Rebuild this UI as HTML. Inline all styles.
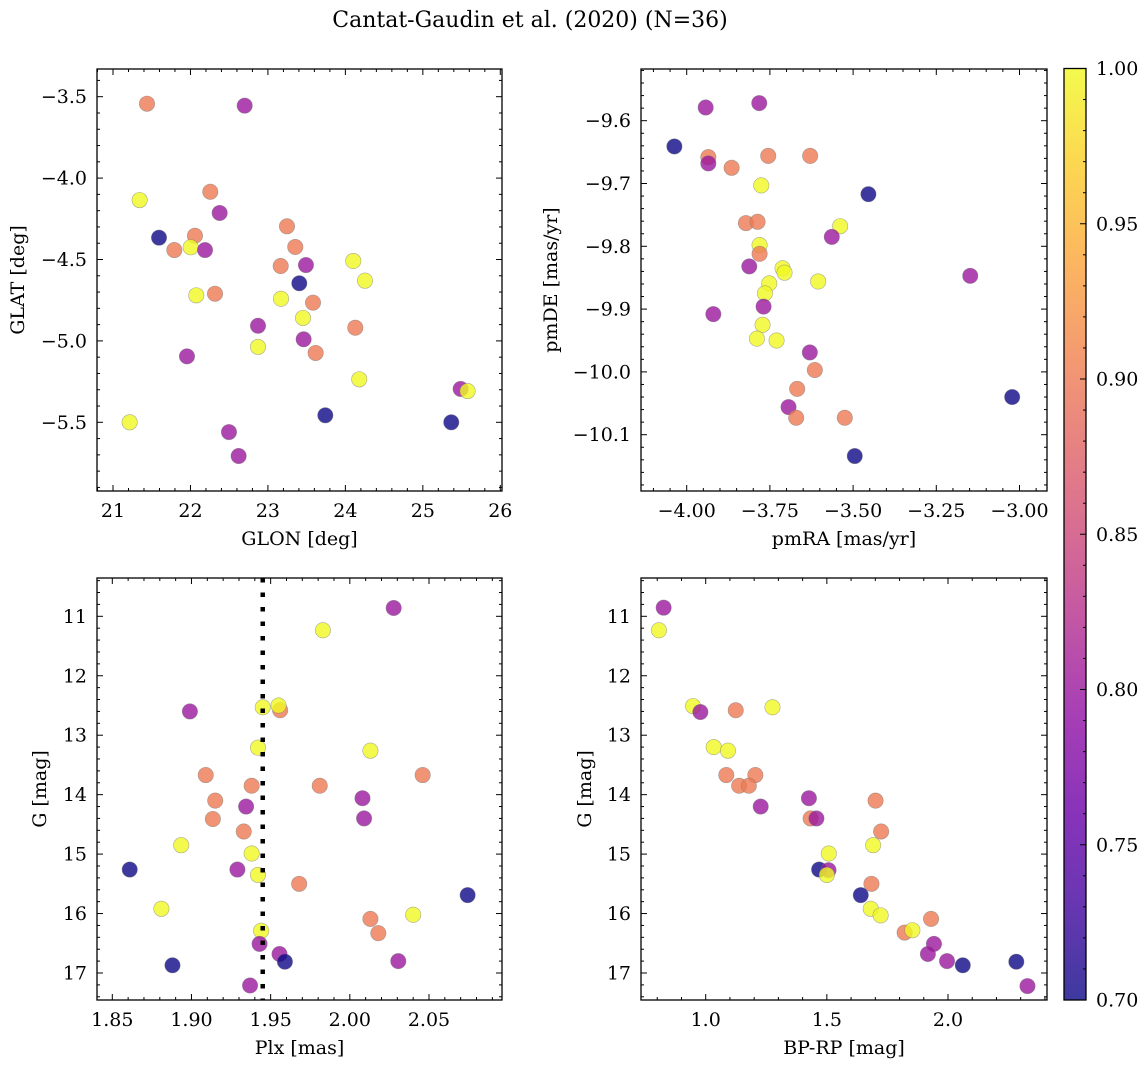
<!DOCTYPE html>
<html><head><meta charset="utf-8">
<style>
html,body{margin:0;padding:0;background:#fff;}
svg{display:block;font-family:"DejaVu Serif","Liberation Serif",serif;}
</style></head>
<body>
<svg id="fig" width="1148" height="1068" viewBox="0 0 1148 1068" xmlns="http://www.w3.org/2000/svg">
<text x="530" y="27" font-size="22" text-anchor="middle">Cantat-Gaudin et al. (2020) (N=36)</text>
</svg>
<script>
// ---- data ----
// panel 1: GLON vs GLAT
const glonX=[21.439,22.70,21.344,22.256,22.377,23.246,21.594,22.058,21.792,22.003,22.188,23.353,23.165,23.491,24.102,24.253,23.405,22.075,22.317,23.169,23.582,23.453,22.872,24.128,23.461,22.872,23.616,21.955,24.179,25.488,25.578,23.741,25.367,21.215,22.497,22.622];
const glatY=[-3.543,-3.555,-4.135,-4.084,-4.214,-4.296,-4.366,-4.354,-4.442,-4.425,-4.442,-4.423,-4.540,-4.534,-4.509,-4.630,-4.646,-4.720,-4.710,-4.741,-4.765,-4.859,-4.907,-4.919,-4.990,-5.037,-5.074,-5.095,-5.236,-5.295,-5.308,-5.457,-5.500,-5.500,-5.560,-5.707];
const glonP=[0.9,0.8,1.0,0.9,0.8,0.9,0.7,0.9,0.9,1.0,0.8,0.9,0.9,0.8,1.0,1.0,0.7,1.0,0.9,1.0,0.9,1.0,0.8,0.9,0.8,1.0,0.9,0.8,1.0,0.8,1.0,0.7,0.7,1.0,0.8,0.8];
// panel 2: pmRA vs pmDE
const pmraX=[-3.943,-3.782,-4.037,-3.935,-3.935,-3.865,-3.755,-3.629,-3.776,-3.454,-3.822,-3.787,-3.539,-3.564,-3.781,-3.781,-3.812,-3.712,-3.706,-3.148,-3.752,-3.605,-3.765,-3.769,-3.920,-3.772,-3.789,-3.730,-3.630,-3.615,-3.022,-3.668,-3.694,-3.671,-3.525,-3.495];
const pmdeY=[-9.579,-9.572,-9.641,-9.658,-9.668,-9.675,-9.656,-9.656,-9.703,-9.717,-9.763,-9.761,-9.768,-9.785,-9.798,-9.812,-9.832,-9.835,-9.842,-9.847,-9.859,-9.856,-9.875,-9.896,-9.908,-9.925,-9.947,-9.950,-9.969,-9.997,-10.040,-10.027,-10.056,-10.073,-10.073,-10.134];
const pmP=[0.8,0.8,0.7,0.9,0.8,0.9,0.9,0.9,1.0,0.7,0.9,0.9,1.0,0.8,1.0,0.9,0.8,1.0,1.0,0.8,1.0,1.0,1.0,0.8,0.8,1.0,1.0,1.0,0.8,0.9,0.7,0.9,0.8,0.9,0.9,0.7];
// panel 3: Plx vs G
const plxX=[2.0277,1.983,1.899,1.945,1.956,1.955,1.942,2.013,1.909,2.046,1.938,1.981,1.915,2.008,1.9345,1.9135,2.009,1.933,1.8935,1.938,1.861,1.929,1.942,1.968,2.0744,1.881,2.040,2.013,2.018,1.944,1.943,1.9556,1.959,2.0306,1.888,1.937];
const plxG=[10.86,11.235,12.60,12.53,12.58,12.50,13.21,13.26,13.67,13.67,13.85,13.85,14.10,14.06,14.20,14.41,14.40,14.62,14.85,14.99,15.26,15.26,15.35,15.50,15.69,15.92,16.02,16.09,16.33,16.29,16.51,16.68,16.81,16.80,16.87,17.21];
const plxP=[0.8,1.0,0.8,1.0,0.9,1.0,1.0,1.0,0.9,0.9,0.9,0.9,0.9,0.8,0.8,0.9,0.8,0.9,1.0,1.0,0.7,0.8,1.0,0.9,0.7,1.0,1.0,0.9,0.9,1.0,0.8,0.8,0.7,0.8,0.7,0.8];
const clusterPlx=[1.945];
// panel 4: BP-RP vs G
const bprpX=[0.8264,0.807,0.9477,0.978,1.124,1.2755,1.033,1.092,1.085,1.205,1.138,1.178,1.227,1.426,1.701,1.433,1.457,1.724,1.691,1.508,1.468,1.507,1.500,1.684,1.640,1.681,1.722,1.930,1.821,1.853,1.942,1.917,2.282,1.996,2.061,2.328];
const bprpG=[10.855,11.235,12.51,12.61,12.58,12.53,13.20,13.26,13.67,13.67,13.85,13.85,14.20,14.06,14.10,14.40,14.40,14.62,14.85,14.99,15.26,15.27,15.35,15.50,15.69,15.92,16.03,16.09,16.32,16.28,16.51,16.68,16.81,16.80,16.87,17.22];
const bprpP=[0.8,1.0,1.0,0.8,0.9,1.0,1.0,1.0,0.9,0.9,0.9,0.9,0.8,0.8,0.9,0.9,0.8,0.9,1.0,1.0,0.7,0.8,1.0,0.9,0.7,1.0,1.0,0.9,0.9,1.0,0.8,0.8,0.7,0.8,0.7,0.8];
// colorbar
const cbarTicks=[0.70,0.75,0.80,0.85,0.90,0.95,1.00];
const cbarMin=0.70, cbarMax=1.00;

// ---- helpers ----
const NS="http://www.w3.org/2000/svg";
const svg=document.getElementById('fig');
function mk(tag,attrs,parent){const e=document.createElementNS(NS,tag);for(const k in attrs)e.setAttribute(k,attrs[k]);(parent||svg).appendChild(e);return e;}
const PL=[[0,13,8,135],[0.1,65,4,157],[0.2,106,0,168],[0.3,143,13,164],[0.4,177,42,144],[0.5,204,71,120],[0.6,225,100,98],[0.7,242,132,75],[0.8,252,166,54],[0.9,252,206,37],[1,240,249,33]];
function plasma(t){t=Math.max(0,Math.min(1,t));for(let i=0;i<PL.length-1;i++){const a=PL[i],b=PL[i+1];if(t<=b[0]){const f=(t-a[0])/(b[0]-a[0]);return 'rgb('+[1,2,3].map(j=>Math.round(a[j]+(b[j]-a[j])*f)).join(',')+')';}}return 'rgb(240,249,33)';}
function fmt(v,d){const s=Math.abs(v).toFixed(d);return (v<0?'\u2212':'')+s;}
function lin(v1,p1,v2,p2){const k=(p2-p1)/(v2-v1);const f=v=>p1+(v-v1)*k;f.inv=p=>v1+(p-p1)/k;return f;}

function panel(cfg){
  const g=mk('g',{});
  
  
  const {L,T,W,H}=cfg;const R=L+W,B=T+H;
  const sx=cfg.sx, sy=cfg.sy;
  const cid='clip-'+cfg.name;
  const cp=mk('clipPath',{id:cid},g);mk('rect',{x:L,y:T,width:W,height:H},cp);
  const pts=mk('g',{'clip-path':'url(#'+cid+')'},g);
  
  
  for(let i=0;i<cfg.xs.length;i++){
    const c=mk('circle',{cx:sx(cfg.xs[i]),cy:sy(cfg.ys[i]),r:7.7,fill:plasma((cfg.ps[i]-cbarMin)/(cbarMax-cbarMin)),'fill-opacity':0.8,stroke:'#777','stroke-opacity':0.6,'stroke-width':0.6},pts);
    
    
  }
  if(cfg.vline){for(const v of cfg.vline){const ln=mk('line',{x1:sx(v),x2:sx(v),y1:T,y2:B,stroke:'#000','stroke-width':4.5,'stroke-dasharray':'4.5 10'},pts);
    
    }}
  mk('rect',{x:L,y:T,width:W,height:H,fill:'none',stroke:'#000','stroke-width':1.3},g);
  const xl=sx.inv(L),xr=sx.inv(R);
  const xlo=Math.min(xl,xr),xhi=Math.max(xl,xr);
  for(let v=Math.ceil(xlo/cfg.xminor-1e-6)*cfg.xminor;v<=xhi+1e-9;v+=cfg.xminor){
    const major=Math.abs(v/cfg.xmajor-Math.round(v/cfg.xmajor))<1e-4;const len=major?6:3;const x=sx(v);
    mk('line',{x1:x,x2:x,y1:B,y2:B-len,stroke:'#000','stroke-width':1},g);
    mk('line',{x1:x,x2:x,y1:T,y2:T+len,stroke:'#000','stroke-width':1},g);
    if(major){const t=mk('text',{x:x,y:B+26,'font-size':19,'text-anchor':'middle'},g);t.textContent=fmt(v,cfg.xdec);
      
      }
  }
  const yt=sy.inv(T),yb=sy.inv(B);
  const ylo=Math.min(yt,yb),yhi=Math.max(yt,yb);
  for(let v=Math.ceil(ylo/cfg.yminor-1e-6)*cfg.yminor;v<=yhi+1e-9;v+=cfg.yminor){
    const major=Math.abs(v/cfg.ymajor-Math.round(v/cfg.ymajor))<1e-4;const len=major?6:3;const y=sy(v);
    mk('line',{x1:L,x2:L+len,y1:y,y2:y,stroke:'#000','stroke-width':1},g);
    mk('line',{x1:R,x2:R-len,y1:y,y2:y,stroke:'#000','stroke-width':1},g);
    if(major){const t=mk('text',{x:L-10,y:y+6.5,'font-size':19,'text-anchor':'end'},g);t.textContent=fmt(v,cfg.ydec);
      
      }
  }
  const xt=mk('text',{x:L+W/2,y:B+54,'font-size':19,'text-anchor':'middle'},g);xt.textContent=cfg.xlabel;
  
  
  const ytx=mk('text',{x:cfg.ylabX,y:T+H/2,'font-size':19,'text-anchor':'middle',transform:'rotate(-90 '+cfg.ylabX+' '+(T+H/2)+')'},g);ytx.textContent=cfg.ylabel;
  
  
}

panel({name:'glon-glat-panel',L:97,T:69,W:405,H:422,sx:lin(21,113,26,500.3),sy:lin(-3.5,96.7,-5.5,422.3),xs:glonX,ys:glatY,ps:glonP,xmajor:1,xminor:0.2,ymajor:0.5,yminor:0.1,xdec:0,ydec:1,xlabel:'GLON [deg]',ylabel:'GLAT [deg]',ylabX:24});
panel({name:'pm-panel',L:641,T:69,W:406,H:422,sx:lin(-4,686.7,-3,1019.5),sy:lin(-9.6,120.7,-10.1,434.7),xs:pmraX,ys:pmdeY,ps:pmP,xmajor:0.25,xminor:0.05,ymajor:0.1,yminor:0.02,xdec:2,ydec:1,xlabel:'pmRA [mas/yr]',ylabel:'pmDE [mas/yr]',ylabX:557});
panel({name:'plx-g-panel',L:97,T:578,W:405,H:422,sx:lin(1.85,112.3,2.05,429),sy:lin(11,616.3,17,973),xs:plxX,ys:plxG,ps:plxP,xmajor:0.05,xminor:0.01,ymajor:1,yminor:0.2,xdec:2,ydec:0,xlabel:'Plx [mas]',ylabel:'G [mag]',ylabX:46,vline:clusterPlx});
panel({name:'cmd-panel',L:641,T:578,W:406,H:422,sx:lin(1.0,705.7,2.0,948),sy:lin(11,616.3,17,973),xs:bprpX,ys:bprpG,ps:bprpP,xmajor:0.5,xminor:0.1,ymajor:1,yminor:0.2,xdec:1,ydec:0,xlabel:'BP-RP [mag]',ylabel:'G [mag]',ylabX:591});

// colorbar
(function(){
  const L=1064,T=68.5,W=22,H=931.5;
  const g=mk('g',{});
  
  
  const defs=mk('defs',{},g);
  const lg=mk('linearGradient',{id:'cbg',x1:0,y1:1,x2:0,y2:0},defs);
  for(let i=0;i<=20;i++){const t=i/20;mk('stop',{offset:t,'stop-color':plasma(t),'stop-opacity':0.8},lg);}
  mk('rect',{x:L,y:T,width:W,height:H,fill:'url(#cbg)'},g);
  mk('rect',{x:L,y:T,width:W,height:H,fill:'none',stroke:'#000','stroke-width':1.3},g);
  const sc=lin(cbarMin,T+H,cbarMax,T);
  for(let k=0;k<=30;k++){const v=cbarMin+k*0.01;const y=sc(v);const major=k%5===0;
    mk('line',{x1:L+W,x2:L+W-(major?6:3),y1:y,y2:y,stroke:'#000','stroke-width':1},g);}
  for(const v of cbarTicks){const t=mk('text',{x:L+W+10,y:sc(v)+6.5,'font-size':19},g);t.textContent=v.toFixed(2);
    
    }
})();
</script>
</body></html>
